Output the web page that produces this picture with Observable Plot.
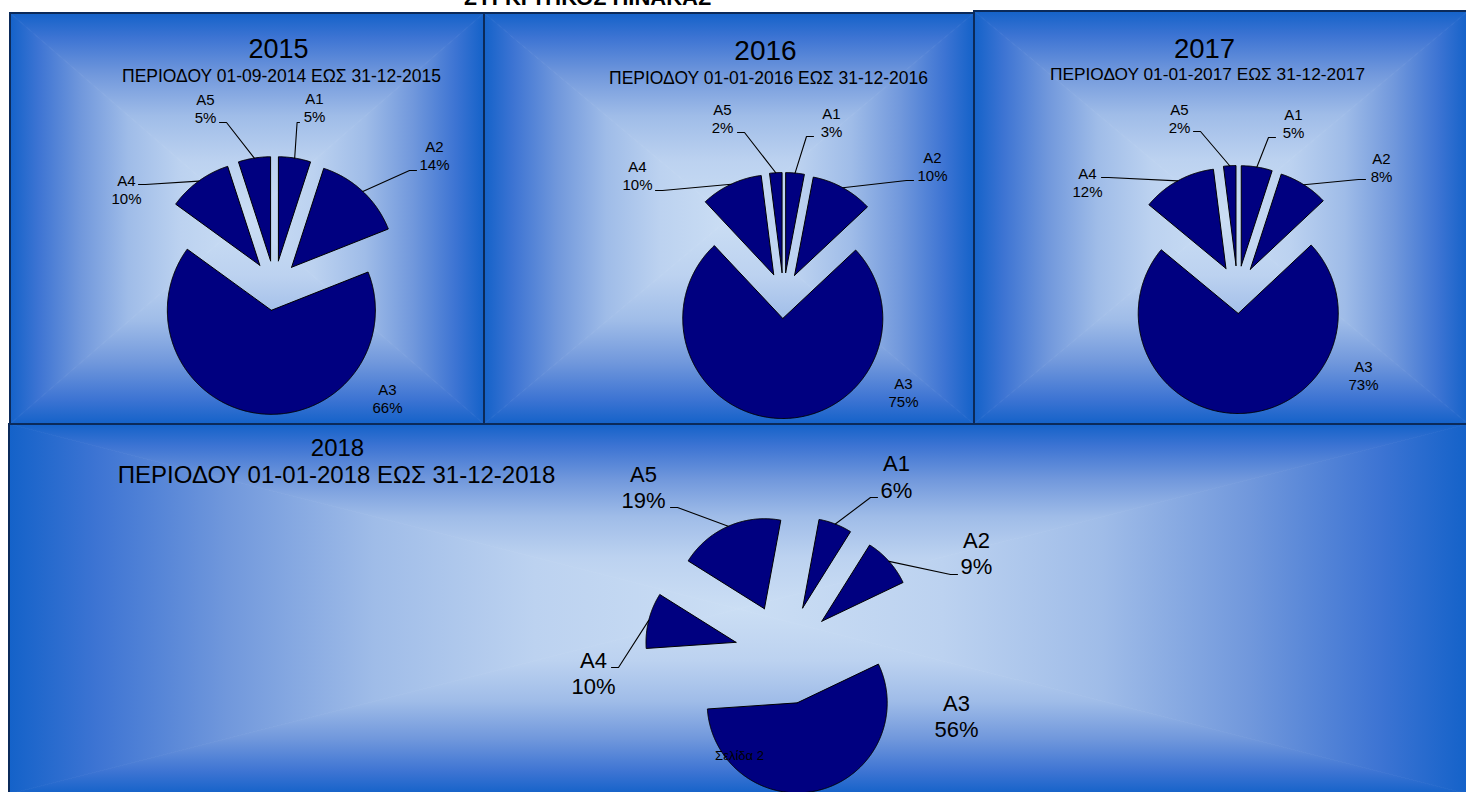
<!DOCTYPE html>
<html>
<head>
<meta charset="utf-8">
<script src="https://cdn.jsdelivr.net/npm/d3@7"></script>
<script src="https://cdn.jsdelivr.net/npm/@observablehq/plot@0.6"></script>
<style>
  html, body { margin: 0; padding: 0; background: #fff; overflow: hidden; }
  #chart { width: 1466px; height: 792px; }
</style>
</head>
<body>
<div id="chart"></div>
<script>
// ---------------- DATA ----------------
const chartTitle = "ΣΥΓΚΡΙΤΙΚΟΣ ΠΙΝΑΚΑΣ";
const categories = ["A1", "A2", "A3", "A4", "A5"];
const years = ["2015", "2016", "2017", "2018"];
const periods = [
  "ΠΕΡΙΟΔΟΥ 01-09-2014 ΕΩΣ 31-12-2015",
  "ΠΕΡΙΟΔΟΥ 01-01-2016 ΕΩΣ 31-12-2016",
  "ΠΕΡΙΟΔΟΥ 01-01-2017 ΕΩΣ 31-12-2017",
  "ΠΕΡΙΟΔΟΥ 01-01-2018 ΕΩΣ 31-12-2018"
];
const values2015 = [5, 14, 66, 10, 5];
const values2016 = [3, 10, 75, 10, 2];
const values2017 = [5, 8, 73, 12, 2];
const values2018 = [6, 9, 56, 10, 19];
const pageFooter = "Σελίδα 2";

const seriesValues = [values2015, values2016, values2017, values2018];

// ---------------- LAYOUT (pixels) ----------------
const panels = [
  { box: [10, 13, 484, 424], cx: 274, cy: 285, r: 104, explode: 25, rot: 0,
    title: { x: 278, y: 57, size: 27 }, sub: { x: 281, y: 81, size: 17.5 }, labelSize: 15,
    labelPos: [[40, -178], [160, -130], [113, 113], [-148, -96], [-69, -177]],
    leaderStart: [[-15, 15], [-18, 15], null, [12, -5], [14, 14]] },
  { box: [484, 13, 974, 424], cx: 783, cy: 295, r: 100, explode: 23, rot: 0,
    title: { x: 765, y: 59, size: 28 }, sub: { x: 768, y: 83, size: 17.5 }, labelSize: 15,
    labelPos: [[48, -173.5], [149, -129], [120, 96.5], [-146, -120], [-61, -177]],
    leaderStart: [[-18, 14.5], [-19, 14], null, [18, 15], [15, 14]] },
  { box: [974, 11, 1468, 424], cx: 1237, cy: 289, r: 100, explode: 24, rot: 0,
    title: { x: 1204, y: 57, size: 27.5 }, sub: { x: 1207, y: 79, size: 17.3 }, labelSize: 15,
    labelPos: [[56, -166.5], [144, -122.5], [126, 85.5], [-150, -107.5], [-58, -171.5]],
    leaderStart: [[-18, 14.5], [-16, 12.5], null, [14, -4.5], [14, 13.5]] },
  { box: [9, 424, 1468, 794], cx: 784, cy: 654, r: 90, explode: 50, rot: 10.5,
    title: { x: 337, y: 455, size: 24 }, sub: { x: 336, y: 482, size: 24 }, labelSize: 22,
    labelPos: [[112, -178.5], [192, -102], [172, 61], [-191, 18], [-141, -168]],
    leaderStart: [[-19, 21.5], [-19, 22], null, [18, -5], [27, 21]] }
];

// ---------------- GEOMETRY FROM DATA ----------------
const slicePts = [];
const leaderPts = [];
const labelRows = [];
const titleRows = [];
const subRows = [];

panels.forEach((p, pi) => {
  const vals = seriesValues[pi];
  const total = d3.sum(vals);
  const rot = p.rot * Math.PI / 180;
  const arcs = d3.pie().sort(null).value(d => d).startAngle(rot).endAngle(rot + 2 * Math.PI)(vals);
  arcs.forEach((a, i) => {
    const key = years[pi] + "-" + categories[i];
    const mid = (a.startAngle + a.endAngle) / 2;
    const ox = p.cx + p.explode * Math.sin(mid);
    const oy = p.cy - p.explode * Math.cos(mid);
    slicePts.push({ key, x: ox, y: oy });
    const n = Math.max(2, Math.ceil((a.endAngle - a.startAngle) / (Math.PI / 360)));
    for (let k = 0; k <= n; k++) {
      const t = a.startAngle + (a.endAngle - a.startAngle) * k / n;
      slicePts.push({ key, x: ox + p.r * Math.sin(t), y: oy - p.r * Math.cos(t) });
    }
    slicePts.push({ key, x: ox, y: oy });

    const lx = p.cx + p.labelPos[i][0];
    const ly = p.cy + p.labelPos[i][1];
    const pct = Math.round(vals[i] / total * 100) + "%";
    labelRows.push({ panel: pi, x: lx, y: ly, text: categories[i] + "\n" + pct });

    if (p.leaderStart[i]) {
      const ax = ox + p.r * Math.sin(mid);
      const ay = oy - p.r * Math.cos(mid);
      const sx = lx + p.leaderStart[i][0];
      const sy = ly + p.leaderStart[i][1];
      const dir = Math.sign(ax - sx);
      const h = Math.min(7, Math.abs(ax - sx) / 2);
      leaderPts.push({ key, x: sx, y: sy });
      leaderPts.push({ key, x: sx + dir * h, y: sy });
      leaderPts.push({ key, x: ax, y: ay });
    }
  });
  titleRows.push({ panel: pi, x: p.title.x, y: p.title.y, text: years[pi] });
  subRows.push({ panel: pi, x: p.sub.x, y: p.sub.y, text: periods[pi] });
});

const FONT = "'Liberation Sans', Arial, Helvetica, sans-serif";
const small = d => d.panel < 3;
const big = d => d.panel === 3;

const plot = Plot.plot({
  width: 1466,
  height: 792,
  margin: 0,
  x: { domain: [0, 1466], range: [0, 1466], axis: null },
  y: { domain: [0, 792], range: [0, 792], axis: null },
  style: { background: "white", fontFamily: FONT, overflow: "hidden" },
  marks: [
    Plot.line(slicePts, { x: "x", y: "y", z: "key", fill: "#000080", stroke: "#000", strokeWidth: 1, strokeLinejoin: "miter", curve: "linear" }),
    Plot.line(leaderPts, { x: "x", y: "y", z: "key", stroke: "#000", strokeWidth: 1.1, curve: "linear" }),
    Plot.text(labelRows.filter(small), { x: "x", y: "y", text: "text", fontSize: 15, lineHeight: 1.2, fill: "#000", textAnchor: "middle", fontFamily: FONT }),
    Plot.text(labelRows.filter(big), { x: "x", y: "y", text: "text", fontSize: 22, lineHeight: 1.2, fill: "#000", textAnchor: "middle", fontFamily: FONT }),
    Plot.text(titleRows, { x: "x", y: "y", text: "text", fontSize: d => panels[d.panel].title.size, lineAnchor: "bottom", fill: "#000", textAnchor: "middle", fontFamily: FONT }),
    Plot.text(subRows, { x: "x", y: "y", text: "text", fontSize: d => panels[d.panel].sub.size, lineAnchor: "bottom", fill: "#000", textAnchor: "middle", fontFamily: FONT }),
    Plot.text([{ x: 739, y: 755, text: pageFooter }], { x: "x", y: "y", text: "text", fontSize: 13, fill: "#000", textAnchor: "middle", fontFamily: FONT }),
    Plot.text([{ x: 587, y: 4, text: chartTitle }], { x: "x", y: "y", text: "text", fontSize: 22, fontWeight: "bold", lineAnchor: "bottom", fill: "#000", textAnchor: "middle", fontFamily: FONT })
  ]
});

// ---------------- PANEL BACKGROUNDS (rectangular path gradient) ----------------
const stops = [
  [0, "#1462c9"], [0.12, "#3d74d3"], [0.3, "#7198dc"], [0.5, "#9fbce8"], [0.72, "#bcd2f0"], [1, "#cbdef4"]
];
const svgSel = d3.select(plot);
const bg = svgSel.insert("g", ":first-child").attr("class", "panel-bg");
const defs = bg.append("defs");
panels.forEach((p, i) => {
  const [x0, y0, x1, y1] = p.box;
  const mx = (x0 + x1) / 2, my = (y0 + y1) / 2;
  const tris = [
    { pts: [[x0, y0], [x1, y0], [mx, my]], g: [mx, y0, mx, my] },
    { pts: [[x0, y1], [x1, y1], [mx, my]], g: [mx, y1, mx, my] },
    { pts: [[x0, y0], [x0, y1], [mx, my]], g: [x0, my, mx, my] },
    { pts: [[x1, y0], [x1, y1], [mx, my]], g: [x1, my, mx, my] }
  ];
  const grp = bg.append("g");
  tris.forEach((t, j) => {
    const id = `pg${i}_${j}`;
    const lg = defs.append("linearGradient").attr("id", id).attr("gradientUnits", "userSpaceOnUse")
      .attr("x1", t.g[0]).attr("y1", t.g[1]).attr("x2", t.g[2]).attr("y2", t.g[3]);
    stops.forEach(s => lg.append("stop").attr("offset", s[0]).attr("stop-color", s[1]));
    grp.append("polygon").attr("points", t.pts.map(q => q.join(",")).join(" "))
      .attr("fill", `url(#${id})`).attr("stroke", `url(#${id})`).attr("stroke-width", 0.8);
  });
  grp.append("rect").attr("x", x0).attr("y", y0).attr("width", x1 - x0).attr("height", y1 - y0)
    .attr("fill", "none").attr("stroke", "#0b2a5a").attr("stroke-width", 2);
});

document.getElementById("chart").appendChild(plot);
</script>
</body>
</html>
